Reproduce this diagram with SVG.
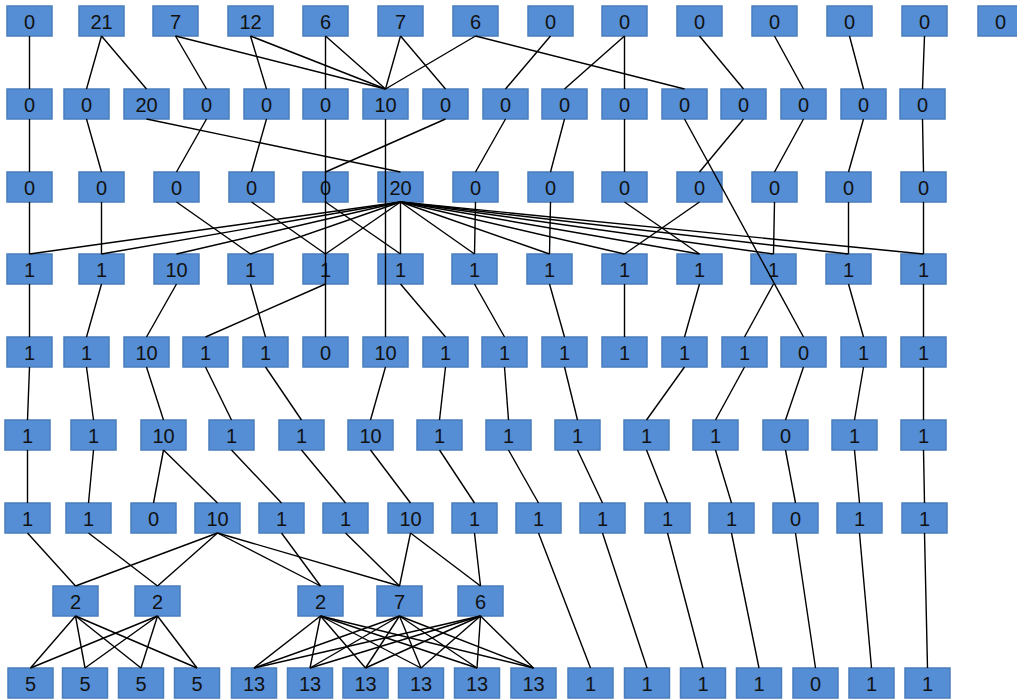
<svg xmlns="http://www.w3.org/2000/svg" width="1017" height="700" viewBox="0 0 1017 700">
<style>
.n rect{fill:#558ED5;stroke:#4A7EBB;stroke-width:1.5}
.n text{font-family:"Liberation Sans",Arial,sans-serif;font-size:20px;fill:#111;text-anchor:middle}
#edges line{stroke:#000;stroke-width:1.4}
</style>
<rect width="1017" height="700" fill="#fff"/>
<g id="nodes">
<g id="A0" class="n"><rect x="7" y="6" width="45" height="30"/><text x="29.5" y="28.5">0</text></g>
<g id="A1" class="n"><rect x="79" y="6" width="45" height="30"/><text x="101.5" y="28.5">21</text></g>
<g id="A2" class="n"><rect x="153" y="6" width="45" height="30"/><text x="175.5" y="28.5">7</text></g>
<g id="A3" class="n"><rect x="228" y="6" width="45" height="30"/><text x="250.5" y="28.5">12</text></g>
<g id="A4" class="n"><rect x="303" y="6" width="45" height="30"/><text x="325.5" y="28.5">6</text></g>
<g id="A5" class="n"><rect x="378" y="6" width="45" height="30"/><text x="400.5" y="28.5">7</text></g>
<g id="A6" class="n"><rect x="453" y="6" width="45" height="30"/><text x="475.5" y="28.5">6</text></g>
<g id="A7" class="n"><rect x="528" y="6" width="45" height="30"/><text x="550.5" y="28.5">0</text></g>
<g id="A8" class="n"><rect x="602" y="6" width="45" height="30"/><text x="624.5" y="28.5">0</text></g>
<g id="A9" class="n"><rect x="677" y="6" width="45" height="30"/><text x="699.5" y="28.5">0</text></g>
<g id="A10" class="n"><rect x="752" y="6" width="45" height="30"/><text x="774.5" y="28.5">0</text></g>
<g id="A11" class="n"><rect x="827" y="6" width="45" height="30"/><text x="849.5" y="28.5">0</text></g>
<g id="A12" class="n"><rect x="902" y="6" width="45" height="30"/><text x="924.5" y="28.5">0</text></g>
<g id="A13" class="n"><rect x="978" y="6" width="45" height="30"/><text x="1000.5" y="28.5">0</text></g>
<g id="B0" class="n"><rect x="7" y="89" width="45" height="30"/><text x="29.5" y="111.5">0</text></g>
<g id="B1" class="n"><rect x="64" y="89" width="45" height="30"/><text x="86.5" y="111.5">0</text></g>
<g id="B2" class="n"><rect x="124" y="89" width="45" height="30"/><text x="146.5" y="111.5">20</text></g>
<g id="B3" class="n"><rect x="184" y="89" width="45" height="30"/><text x="206.5" y="111.5">0</text></g>
<g id="B4" class="n"><rect x="244" y="89" width="45" height="30"/><text x="266.5" y="111.5">0</text></g>
<g id="B5" class="n"><rect x="303" y="89" width="45" height="30"/><text x="325.5" y="111.5">0</text></g>
<g id="B6" class="n"><rect x="363" y="89" width="45" height="30"/><text x="385.5" y="111.5">10</text></g>
<g id="B7" class="n"><rect x="423" y="89" width="45" height="30"/><text x="445.5" y="111.5">0</text></g>
<g id="B8" class="n"><rect x="483" y="89" width="45" height="30"/><text x="505.5" y="111.5">0</text></g>
<g id="B9" class="n"><rect x="542" y="89" width="45" height="30"/><text x="564.5" y="111.5">0</text></g>
<g id="B10" class="n"><rect x="602" y="89" width="45" height="30"/><text x="624.5" y="111.5">0</text></g>
<g id="B11" class="n"><rect x="662" y="89" width="45" height="30"/><text x="684.5" y="111.5">0</text></g>
<g id="B12" class="n"><rect x="721" y="89" width="45" height="30"/><text x="743.5" y="111.5">0</text></g>
<g id="B13" class="n"><rect x="781" y="89" width="45" height="30"/><text x="803.5" y="111.5">0</text></g>
<g id="B14" class="n"><rect x="841" y="89" width="45" height="30"/><text x="863.5" y="111.5">0</text></g>
<g id="B15" class="n"><rect x="900" y="89" width="45" height="30"/><text x="922.5" y="111.5">0</text></g>
<g id="C0" class="n"><rect x="7" y="172" width="45" height="30"/><text x="29.5" y="194.5">0</text></g>
<g id="C1" class="n"><rect x="79" y="172" width="45" height="30"/><text x="101.5" y="194.5">0</text></g>
<g id="C2" class="n"><rect x="154" y="172" width="45" height="30"/><text x="176.5" y="194.5">0</text></g>
<g id="C3" class="n"><rect x="229" y="172" width="45" height="30"/><text x="251.5" y="194.5">0</text></g>
<g id="C4" class="n"><rect x="303" y="172" width="45" height="30"/><text x="325.5" y="194.5">0</text></g>
<g id="C5" class="n"><rect x="378" y="172" width="45" height="30"/><text x="400.5" y="194.5">20</text></g>
<g id="C6" class="n"><rect x="453" y="172" width="45" height="30"/><text x="475.5" y="194.5">0</text></g>
<g id="C7" class="n"><rect x="528" y="172" width="45" height="30"/><text x="550.5" y="194.5">0</text></g>
<g id="C8" class="n"><rect x="602" y="172" width="45" height="30"/><text x="624.5" y="194.5">0</text></g>
<g id="C9" class="n"><rect x="677" y="172" width="45" height="30"/><text x="699.5" y="194.5">0</text></g>
<g id="C10" class="n"><rect x="752" y="172" width="45" height="30"/><text x="774.5" y="194.5">0</text></g>
<g id="C11" class="n"><rect x="826" y="172" width="45" height="30"/><text x="848.5" y="194.5">0</text></g>
<g id="C12" class="n"><rect x="901" y="172" width="45" height="30"/><text x="923.5" y="194.5">0</text></g>
<g id="D0" class="n"><rect x="7" y="254" width="45" height="30"/><text x="29.5" y="276.5">1</text></g>
<g id="D1" class="n"><rect x="79" y="254" width="45" height="30"/><text x="101.5" y="276.5">1</text></g>
<g id="D2" class="n"><rect x="154" y="254" width="45" height="30"/><text x="176.5" y="276.5">10</text></g>
<g id="D3" class="n"><rect x="228" y="254" width="45" height="30"/><text x="250.5" y="276.5">1</text></g>
<g id="D4" class="n"><rect x="303" y="254" width="45" height="30"/><text x="325.5" y="276.5">1</text></g>
<g id="D5" class="n"><rect x="378" y="254" width="45" height="30"/><text x="400.5" y="276.5">1</text></g>
<g id="D6" class="n"><rect x="452" y="254" width="45" height="30"/><text x="474.5" y="276.5">1</text></g>
<g id="D7" class="n"><rect x="527" y="254" width="45" height="30"/><text x="549.5" y="276.5">1</text></g>
<g id="D8" class="n"><rect x="602" y="254" width="45" height="30"/><text x="624.5" y="276.5">1</text></g>
<g id="D9" class="n"><rect x="677" y="254" width="45" height="30"/><text x="699.5" y="276.5">1</text></g>
<g id="D10" class="n"><rect x="751" y="254" width="45" height="30"/><text x="773.5" y="276.5">1</text></g>
<g id="D11" class="n"><rect x="826" y="254" width="45" height="30"/><text x="848.5" y="276.5">1</text></g>
<g id="D12" class="n"><rect x="901" y="254" width="45" height="30"/><text x="923.5" y="276.5">1</text></g>
<g id="E0" class="n"><rect x="7" y="337" width="45" height="30"/><text x="29.5" y="359.5">1</text></g>
<g id="E1" class="n"><rect x="64" y="337" width="45" height="30"/><text x="86.5" y="359.5">1</text></g>
<g id="E2" class="n"><rect x="124" y="337" width="45" height="30"/><text x="146.5" y="359.5">10</text></g>
<g id="E3" class="n"><rect x="183" y="337" width="45" height="30"/><text x="205.5" y="359.5">1</text></g>
<g id="E4" class="n"><rect x="243" y="337" width="45" height="30"/><text x="265.5" y="359.5">1</text></g>
<g id="E5" class="n"><rect x="303" y="337" width="45" height="30"/><text x="325.5" y="359.5">0</text></g>
<g id="E6" class="n"><rect x="363" y="337" width="45" height="30"/><text x="385.5" y="359.5">10</text></g>
<g id="E7" class="n"><rect x="423" y="337" width="45" height="30"/><text x="445.5" y="359.5">1</text></g>
<g id="E8" class="n"><rect x="482" y="337" width="45" height="30"/><text x="504.5" y="359.5">1</text></g>
<g id="E9" class="n"><rect x="542" y="337" width="45" height="30"/><text x="564.5" y="359.5">1</text></g>
<g id="E10" class="n"><rect x="602" y="337" width="45" height="30"/><text x="624.5" y="359.5">1</text></g>
<g id="E11" class="n"><rect x="662" y="337" width="45" height="30"/><text x="684.5" y="359.5">1</text></g>
<g id="E12" class="n"><rect x="722" y="337" width="45" height="30"/><text x="744.5" y="359.5">1</text></g>
<g id="E13" class="n"><rect x="781" y="337" width="45" height="30"/><text x="803.5" y="359.5">0</text></g>
<g id="E14" class="n"><rect x="841" y="337" width="45" height="30"/><text x="863.5" y="359.5">1</text></g>
<g id="E15" class="n"><rect x="901" y="337" width="45" height="30"/><text x="923.5" y="359.5">1</text></g>
<g id="F0" class="n"><rect x="5" y="420" width="45" height="30"/><text x="27.5" y="442.5">1</text></g>
<g id="F1" class="n"><rect x="71" y="420" width="45" height="30"/><text x="93.5" y="442.5">1</text></g>
<g id="F2" class="n"><rect x="141" y="420" width="45" height="30"/><text x="163.5" y="442.5">10</text></g>
<g id="F3" class="n"><rect x="209" y="420" width="45" height="30"/><text x="231.5" y="442.5">1</text></g>
<g id="F4" class="n"><rect x="279" y="420" width="45" height="30"/><text x="301.5" y="442.5">1</text></g>
<g id="F5" class="n"><rect x="348" y="420" width="45" height="30"/><text x="370.5" y="442.5">10</text></g>
<g id="F6" class="n"><rect x="417" y="420" width="45" height="30"/><text x="439.5" y="442.5">1</text></g>
<g id="F7" class="n"><rect x="486" y="420" width="45" height="30"/><text x="508.5" y="442.5">1</text></g>
<g id="F8" class="n"><rect x="555" y="420" width="45" height="30"/><text x="577.5" y="442.5">1</text></g>
<g id="F9" class="n"><rect x="624" y="420" width="45" height="30"/><text x="646.5" y="442.5">1</text></g>
<g id="F10" class="n"><rect x="693" y="420" width="45" height="30"/><text x="715.5" y="442.5">1</text></g>
<g id="F11" class="n"><rect x="763" y="420" width="45" height="30"/><text x="785.5" y="442.5">0</text></g>
<g id="F12" class="n"><rect x="832" y="420" width="45" height="30"/><text x="854.5" y="442.5">1</text></g>
<g id="F13" class="n"><rect x="901" y="420" width="45" height="30"/><text x="923.5" y="442.5">1</text></g>
<g id="G0" class="n"><rect x="5" y="503" width="45" height="30"/><text x="27.5" y="525.5">1</text></g>
<g id="G1" class="n"><rect x="66" y="503" width="45" height="30"/><text x="88.5" y="525.5">1</text></g>
<g id="G2" class="n"><rect x="131" y="503" width="45" height="30"/><text x="153.5" y="525.5">0</text></g>
<g id="G3" class="n"><rect x="195" y="503" width="45" height="30"/><text x="217.5" y="525.5">10</text></g>
<g id="G4" class="n"><rect x="259" y="503" width="45" height="30"/><text x="281.5" y="525.5">1</text></g>
<g id="G5" class="n"><rect x="323" y="503" width="45" height="30"/><text x="345.5" y="525.5">1</text></g>
<g id="G6" class="n"><rect x="388" y="503" width="45" height="30"/><text x="410.5" y="525.5">10</text></g>
<g id="G7" class="n"><rect x="452" y="503" width="45" height="30"/><text x="474.5" y="525.5">1</text></g>
<g id="G8" class="n"><rect x="516" y="503" width="45" height="30"/><text x="538.5" y="525.5">1</text></g>
<g id="G9" class="n"><rect x="580" y="503" width="45" height="30"/><text x="602.5" y="525.5">1</text></g>
<g id="G10" class="n"><rect x="645" y="503" width="45" height="30"/><text x="667.5" y="525.5">1</text></g>
<g id="G11" class="n"><rect x="709" y="503" width="45" height="30"/><text x="731.5" y="525.5">1</text></g>
<g id="G12" class="n"><rect x="773" y="503" width="45" height="30"/><text x="795.5" y="525.5">0</text></g>
<g id="G13" class="n"><rect x="837" y="503" width="45" height="30"/><text x="859.5" y="525.5">1</text></g>
<g id="G14" class="n"><rect x="902" y="503" width="45" height="30"/><text x="924.5" y="525.5">1</text></g>
<g id="H0" class="n"><rect x="53" y="586" width="45" height="30"/><text x="75.5" y="608.5">2</text></g>
<g id="H1" class="n"><rect x="135" y="586" width="45" height="30"/><text x="157.5" y="608.5">2</text></g>
<g id="H2" class="n"><rect x="298" y="586" width="45" height="30"/><text x="320.5" y="608.5">2</text></g>
<g id="H3" class="n"><rect x="377" y="586" width="45" height="30"/><text x="399.5" y="608.5">7</text></g>
<g id="H4" class="n"><rect x="458" y="586" width="45" height="30"/><text x="480.5" y="608.5">6</text></g>
<g id="I0" class="n"><rect x="8" y="668" width="45" height="30"/><text x="30.5" y="690.5">5</text></g>
<g id="I1" class="n"><rect x="62.5" y="668" width="45" height="30"/><text x="85" y="690.5">5</text></g>
<g id="I2" class="n"><rect x="118.5" y="668" width="45" height="30"/><text x="141" y="690.5">5</text></g>
<g id="I3" class="n"><rect x="174.5" y="668" width="45" height="30"/><text x="197" y="690.5">5</text></g>
<g id="I4" class="n"><rect x="231.5" y="668" width="45" height="30"/><text x="254" y="690.5">13</text></g>
<g id="I5" class="n"><rect x="287.5" y="668" width="45" height="30"/><text x="310" y="690.5">13</text></g>
<g id="I6" class="n"><rect x="343" y="668" width="45" height="30"/><text x="365.5" y="690.5">13</text></g>
<g id="I7" class="n"><rect x="398.5" y="668" width="45" height="30"/><text x="421" y="690.5">13</text></g>
<g id="I8" class="n"><rect x="454.5" y="668" width="45" height="30"/><text x="477" y="690.5">13</text></g>
<g id="I9" class="n"><rect x="511" y="668" width="45" height="30"/><text x="533.5" y="690.5">13</text></g>
<g id="I10" class="n"><rect x="568" y="668" width="45" height="30"/><text x="590.5" y="690.5">1</text></g>
<g id="I11" class="n"><rect x="624.5" y="668" width="45" height="30"/><text x="647" y="690.5">1</text></g>
<g id="I12" class="n"><rect x="680.5" y="668" width="45" height="30"/><text x="703" y="690.5">1</text></g>
<g id="I13" class="n"><rect x="736.5" y="668" width="45" height="30"/><text x="759" y="690.5">1</text></g>
<g id="I14" class="n"><rect x="793" y="668" width="45" height="30"/><text x="815.5" y="690.5">0</text></g>
<g id="I15" class="n"><rect x="849" y="668" width="45" height="30"/><text x="871.5" y="690.5">1</text></g>
<g id="I16" class="n"><rect x="905" y="668" width="45" height="30"/><text x="927.5" y="690.5">1</text></g>
</g>
<g id="edges">
<line x1="29.5" y1="36" x2="29.5" y2="89"/>
<line x1="101.5" y1="36" x2="86.5" y2="89"/>
<line x1="101.5" y1="36" x2="146.5" y2="89"/>
<line x1="175.5" y1="36" x2="206.5" y2="89"/>
<line x1="175.5" y1="36" x2="385.5" y2="89"/>
<line x1="250.5" y1="36" x2="266.5" y2="89"/>
<line x1="250.5" y1="36" x2="385.5" y2="89"/>
<line x1="325.5" y1="36" x2="325.5" y2="89"/>
<line x1="325.5" y1="36" x2="385.5" y2="89"/>
<line x1="400.5" y1="36" x2="385.5" y2="89"/>
<line x1="400.5" y1="36" x2="445.5" y2="89"/>
<line x1="475.5" y1="36" x2="385.5" y2="89"/>
<line x1="475.5" y1="36" x2="684.5" y2="89"/>
<line x1="550.5" y1="36" x2="505.5" y2="89"/>
<line x1="624.5" y1="36" x2="564.5" y2="89"/>
<line x1="624.5" y1="36" x2="624.5" y2="89"/>
<line x1="699.5" y1="36" x2="743.5" y2="89"/>
<line x1="774.5" y1="36" x2="803.5" y2="89"/>
<line x1="849.5" y1="36" x2="863.5" y2="89"/>
<line x1="924.5" y1="36" x2="922.5" y2="89"/>
<line x1="29.5" y1="119" x2="29.5" y2="172"/>
<line x1="86.5" y1="119" x2="101.5" y2="172"/>
<line x1="146.5" y1="119" x2="400.5" y2="172"/>
<line x1="206.5" y1="119" x2="176.5" y2="172"/>
<line x1="266.5" y1="119" x2="251.5" y2="172"/>
<line x1="445.5" y1="119" x2="325.5" y2="172"/>
<line x1="505.5" y1="119" x2="475.5" y2="172"/>
<line x1="564.5" y1="119" x2="550.5" y2="172"/>
<line x1="624.5" y1="119" x2="624.5" y2="172"/>
<line x1="743.5" y1="119" x2="699.5" y2="172"/>
<line x1="803.5" y1="119" x2="774.5" y2="172"/>
<line x1="863.5" y1="119" x2="848.5" y2="172"/>
<line x1="922.5" y1="119" x2="923.5" y2="172"/>
<line x1="325.5" y1="119" x2="325.5" y2="337"/>
<line x1="385.5" y1="119" x2="385.5" y2="337"/>
<line x1="684.5" y1="119" x2="803.5" y2="337"/>
<line x1="29.5" y1="202" x2="29.5" y2="254"/>
<line x1="101.5" y1="202" x2="101.5" y2="254"/>
<line x1="176.5" y1="202" x2="250.5" y2="254"/>
<line x1="251.5" y1="202" x2="325.5" y2="254"/>
<line x1="325.5" y1="202" x2="400.5" y2="254"/>
<line x1="400.5" y1="202" x2="29.5" y2="254"/>
<line x1="400.5" y1="202" x2="101.5" y2="254"/>
<line x1="400.5" y1="202" x2="176.5" y2="254"/>
<line x1="400.5" y1="202" x2="250.5" y2="254"/>
<line x1="400.5" y1="202" x2="325.5" y2="254"/>
<line x1="400.5" y1="202" x2="400.5" y2="254"/>
<line x1="400.5" y1="202" x2="474.5" y2="254"/>
<line x1="400.5" y1="202" x2="549.5" y2="254"/>
<line x1="400.5" y1="202" x2="624.5" y2="254"/>
<line x1="400.5" y1="202" x2="699.5" y2="254"/>
<line x1="400.5" y1="202" x2="773.5" y2="254"/>
<line x1="400.5" y1="202" x2="848.5" y2="254"/>
<line x1="400.5" y1="202" x2="923.5" y2="254"/>
<line x1="475.5" y1="202" x2="474.5" y2="254"/>
<line x1="550.5" y1="202" x2="549.5" y2="254"/>
<line x1="624.5" y1="202" x2="699.5" y2="254"/>
<line x1="699.5" y1="202" x2="624.5" y2="254"/>
<line x1="774.5" y1="202" x2="773.5" y2="254"/>
<line x1="848.5" y1="202" x2="848.5" y2="254"/>
<line x1="923.5" y1="202" x2="923.5" y2="254"/>
<line x1="29.5" y1="284" x2="29.5" y2="337"/>
<line x1="101.5" y1="284" x2="86.5" y2="337"/>
<line x1="176.5" y1="284" x2="146.5" y2="337"/>
<line x1="250.5" y1="284" x2="265.5" y2="337"/>
<line x1="325.5" y1="284" x2="205.5" y2="337"/>
<line x1="400.5" y1="284" x2="445.5" y2="337"/>
<line x1="474.5" y1="284" x2="504.5" y2="337"/>
<line x1="549.5" y1="284" x2="564.5" y2="337"/>
<line x1="624.5" y1="284" x2="624.5" y2="337"/>
<line x1="699.5" y1="284" x2="684.5" y2="337"/>
<line x1="773.5" y1="284" x2="744.5" y2="337"/>
<line x1="848.5" y1="284" x2="863.5" y2="337"/>
<line x1="923.5" y1="284" x2="923.5" y2="337"/>
<line x1="29.5" y1="367" x2="27.5" y2="420"/>
<line x1="86.5" y1="367" x2="93.5" y2="420"/>
<line x1="146.5" y1="367" x2="163.5" y2="420"/>
<line x1="205.5" y1="367" x2="231.5" y2="420"/>
<line x1="265.5" y1="367" x2="301.5" y2="420"/>
<line x1="385.5" y1="367" x2="370.5" y2="420"/>
<line x1="445.5" y1="367" x2="439.5" y2="420"/>
<line x1="504.5" y1="367" x2="508.5" y2="420"/>
<line x1="564.5" y1="367" x2="577.5" y2="420"/>
<line x1="684.5" y1="367" x2="646.5" y2="420"/>
<line x1="744.5" y1="367" x2="715.5" y2="420"/>
<line x1="803.5" y1="367" x2="785.5" y2="420"/>
<line x1="863.5" y1="367" x2="854.5" y2="420"/>
<line x1="923.5" y1="367" x2="923.5" y2="420"/>
<line x1="27.5" y1="450" x2="27.5" y2="503"/>
<line x1="93.5" y1="450" x2="88.5" y2="503"/>
<line x1="163.5" y1="450" x2="153.5" y2="503"/>
<line x1="163.5" y1="450" x2="217.5" y2="503"/>
<line x1="231.5" y1="450" x2="281.5" y2="503"/>
<line x1="301.5" y1="450" x2="345.5" y2="503"/>
<line x1="370.5" y1="450" x2="410.5" y2="503"/>
<line x1="439.5" y1="450" x2="474.5" y2="503"/>
<line x1="508.5" y1="450" x2="538.5" y2="503"/>
<line x1="577.5" y1="450" x2="602.5" y2="503"/>
<line x1="646.5" y1="450" x2="667.5" y2="503"/>
<line x1="715.5" y1="450" x2="731.5" y2="503"/>
<line x1="785.5" y1="450" x2="795.5" y2="503"/>
<line x1="854.5" y1="450" x2="859.5" y2="503"/>
<line x1="923.5" y1="450" x2="924.5" y2="503"/>
<line x1="27.5" y1="533" x2="75.5" y2="586"/>
<line x1="88.5" y1="533" x2="157.5" y2="586"/>
<line x1="217.5" y1="533" x2="75.5" y2="586"/>
<line x1="217.5" y1="533" x2="157.5" y2="586"/>
<line x1="217.5" y1="533" x2="320.5" y2="586"/>
<line x1="217.5" y1="533" x2="399.5" y2="586"/>
<line x1="281.5" y1="533" x2="320.5" y2="586"/>
<line x1="345.5" y1="533" x2="399.5" y2="586"/>
<line x1="410.5" y1="533" x2="399.5" y2="586"/>
<line x1="410.5" y1="533" x2="480.5" y2="586"/>
<line x1="474.5" y1="533" x2="480.5" y2="586"/>
<line x1="538.5" y1="533" x2="590.5" y2="668"/>
<line x1="602.5" y1="533" x2="647" y2="668"/>
<line x1="667.5" y1="533" x2="703" y2="668"/>
<line x1="731.5" y1="533" x2="759" y2="668"/>
<line x1="795.5" y1="533" x2="815.5" y2="668"/>
<line x1="859.5" y1="533" x2="871.5" y2="668"/>
<line x1="924.5" y1="533" x2="927.5" y2="668"/>
<line x1="75.5" y1="616" x2="30.5" y2="668"/>
<line x1="75.5" y1="616" x2="85" y2="668"/>
<line x1="75.5" y1="616" x2="141" y2="668"/>
<line x1="75.5" y1="616" x2="197" y2="668"/>
<line x1="157.5" y1="616" x2="30.5" y2="668"/>
<line x1="157.5" y1="616" x2="85" y2="668"/>
<line x1="157.5" y1="616" x2="141" y2="668"/>
<line x1="157.5" y1="616" x2="197" y2="668"/>
<line x1="320.5" y1="616" x2="254" y2="668"/>
<line x1="320.5" y1="616" x2="310" y2="668"/>
<line x1="320.5" y1="616" x2="365.5" y2="668"/>
<line x1="320.5" y1="616" x2="421" y2="668"/>
<line x1="320.5" y1="616" x2="477" y2="668"/>
<line x1="320.5" y1="616" x2="533.5" y2="668"/>
<line x1="399.5" y1="616" x2="254" y2="668"/>
<line x1="399.5" y1="616" x2="310" y2="668"/>
<line x1="399.5" y1="616" x2="365.5" y2="668"/>
<line x1="399.5" y1="616" x2="421" y2="668"/>
<line x1="399.5" y1="616" x2="477" y2="668"/>
<line x1="399.5" y1="616" x2="533.5" y2="668"/>
<line x1="480.5" y1="616" x2="254" y2="668"/>
<line x1="480.5" y1="616" x2="310" y2="668"/>
<line x1="480.5" y1="616" x2="365.5" y2="668"/>
<line x1="480.5" y1="616" x2="421" y2="668"/>
<line x1="480.5" y1="616" x2="477" y2="668"/>
<line x1="480.5" y1="616" x2="533.5" y2="668"/>
</g>
</svg>
